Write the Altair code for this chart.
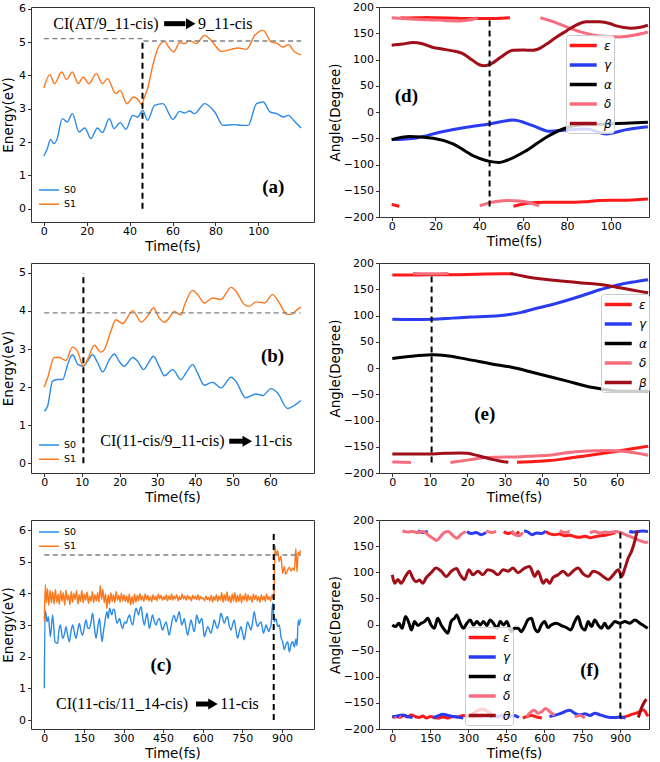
import altair as alt
import pandas as pd

FONT = "DejaVu Sans"
SERIF = "Liberation Serif"
BLUE = "#2b8be6"
ORANGE = "#fb781e"
C_EPS = "#ff1a1a"
C_GAM = "#2b3cf0"
C_ALP = "#000000"
C_DEL = "#f66e7e"
C_BET = "#a00f19"

# ---------------- panel (a) ----------------
A_S0 = [(0, 1.58), (1.6, 1.80), (3.1, 2.08), (4.7, 1.95), (6.2, 2.10), (8.6, 2.70), (10.9, 2.60),
        (13.3, 2.85), (16.4, 2.30), (19.1, 2.42), (21.9, 2.10), (25.0, 2.42), (27.3, 2.28),
        (30.5, 2.70), (32.8, 2.40), (35.6, 2.58), (38.3, 2.38), (41.4, 2.80), (43.8, 2.75),
        (46.1, 2.95), (48.4, 2.65), (51.6, 3.10), (55.5, 3.15), (60.2, 2.68), (63.3, 2.92),
        (65.6, 2.87), (68.0, 2.93), (70.3, 2.85), (75.0, 3.15), (79.7, 2.90), (83.6, 2.50),
        (89.0, 2.52), (92.2, 2.50), (95.3, 2.50), (99.2, 3.15), (102.3, 3.20), (105.5, 2.90),
        (108.6, 2.85), (111.7, 2.75), (114.0, 2.80), (117.2, 2.60), (120.0, 2.42)]
A_S1 = [(0, 3.62), (2.8, 4.02), (5.0, 3.75), (8.3, 4.10), (10.6, 3.88), (13.3, 4.10), (16.0, 3.75),
        (18.4, 3.95), (21.0, 3.75), (24.5, 4.05), (27.3, 3.75), (29.7, 3.90), (33.6, 3.45),
        (35.6, 3.55), (38.7, 3.15), (41.9, 3.35), (44.2, 3.25), (45.6, 3.12), (46.9, 3.35),
        (48.4, 3.60), (50.8, 4.30), (53.1, 4.80), (56.2, 5.02), (58.6, 4.82), (60.6, 4.70),
        (63.3, 4.98), (65.6, 4.95), (68.0, 5.05), (71.0, 4.95), (75.0, 5.20), (78.0, 5.05),
        (82.8, 4.72), (87.5, 4.78), (90.6, 4.82), (94.5, 4.78), (98.4, 5.20), (102.3, 5.35),
        (106.0, 5.00), (109.0, 4.95), (111.5, 4.85), (114.0, 4.92), (117.0, 4.70), (120.0, 4.62)]
A_HREF = [(0, 5.10), (46, 5.10), (46, 5.03), (120, 5.03)]
A_CI = (46, 0, 5.06)

# ---------------- panel (b) ----------------
B_S0 = [(0, 1.37), (0.9, 1.50), (2.2, 2.15), (3.5, 2.20), (4.9, 2.20), (6.2, 2.59), (7.5, 2.85),
        (9.0, 2.59), (10.4, 2.55), (11.5, 2.68), (12.8, 2.85), (14.2, 2.64), (15.5, 2.40),
        (17.3, 2.72), (18.6, 2.87), (19.9, 2.68), (21.2, 2.55), (23.5, 2.78), (24.8, 2.68),
        (26.4, 2.46), (27.4, 2.59), (29.0, 2.81), (30.5, 2.55), (31.9, 2.30), (34.1, 2.46),
        (36.3, 2.20), (37.6, 2.37), (39.4, 2.59), (40.7, 2.37), (42.5, 2.05), (44.7, 2.13),
        (46.9, 1.98), (49.6, 2.26), (50.9, 2.15), (53.5, 1.72), (56.2, 1.82), (58.0, 1.78),
        (60.2, 1.96), (61.9, 1.85), (64.6, 1.44), (66.4, 1.52), (68.1, 1.65)]
B_S1 = [(0, 2.00), (0.9, 2.24), (2.65, 2.78), (4.0, 2.78), (5.75, 2.70), (7.5, 3.05), (8.85, 2.94),
        (10.4, 2.55), (11.7, 2.77), (13.3, 3.10), (15.0, 2.92), (15.9, 2.98), (17.7, 3.47),
        (19.0, 3.77), (20.8, 3.67), (23.5, 4.01), (25.7, 3.71), (27.4, 3.86), (29.0, 4.08),
        (30.5, 3.82), (31.9, 3.70), (33.2, 3.82), (34.5, 3.99), (36.3, 3.90), (37.3, 4.17),
        (39.4, 4.54), (40.7, 4.43), (42.5, 4.21), (44.7, 4.34), (46.9, 4.30), (49.6, 4.62),
        (50.9, 4.52), (53.1, 4.17), (54.4, 4.12), (56.2, 4.24), (58.4, 4.21), (60.6, 4.43),
        (62.4, 4.21), (64.4, 3.91), (65.5, 3.91), (66.8, 4.01), (68.1, 4.10)]
B_HREF = [(0, 3.95), (68, 3.95)]
B_CI = (10.4, 0, 5.0)

# ---------------- panel (c) ----------------
C_S0 = [(0, 1.0), (3, 3.45), (6.4, 3.37), (10, 3.1), (15.3, 3.26), (23, 2.63), (31.7, 3.32),
        (40.5, 2.47), (50.6, 2.42), (55, 2.8), (60.8, 3.0), (69.6, 2.58), (76, 2.7), (82.3, 2.95),
        (88, 2.7), (94.9, 2.47), (101, 2.8), (107.5, 3.0), (114, 2.75), (120, 2.58), (127, 2.85),
        (133, 3.05), (139, 2.8), (145, 2.68), (152, 2.95), (158, 3.16), (165, 2.9), (171, 2.89),
        (177, 3.1), (183, 3.37), (190, 2.9), (196, 2.58), (203, 2.95), (209, 3.21), (214, 2.8),
        (219, 2.47), (224, 2.8), (228, 3.0), (237, 3.42), (242, 3.2), (247, 3.53), (256, 3.32),
        (261, 3.5), (266, 3.47), (271, 3.2), (276, 3.05), (285, 3.21), (291, 3.0), (297, 2.89),
        (304, 3.1), (310, 3.05), (316, 3.2), (323, 3.32), (329, 3.1), (335, 3.0), (341, 3.3),
        (348, 3.53), (357, 3.32), (362, 3.5), (367, 3.58), (373, 3.2), (379, 3.0), (384, 3.2),
        (389, 3.37), (394, 3.1), (398, 2.89), (404, 3.1), (410, 3.32), (417, 3.1), (423, 3.0),
        (430, 3.15), (436, 3.21), (442, 3.0), (448, 2.84), (455, 3.0), (461, 3.1), (467, 2.9),
        (473, 2.68), (480, 2.95), (486, 3.21), (492, 3.3), (499, 3.1), (505, 3.25), (511, 3.42),
        (516, 3.2), (521, 3.0), (526, 3.1), (530, 3.21), (537, 2.9), (543, 2.68), (550, 2.95),
        (556, 3.16), (562, 2.95), (568, 2.79), (573, 3.05), (577, 3.32), (582, 3.2), (587, 3.05),
        (592, 3.15), (597, 3.21), (602, 2.9), (606, 2.63), (613, 2.8), (619, 2.95), (625, 2.85),
        (631, 2.74), (638, 2.95), (644, 3.16), (650, 3.0), (656, 2.89), (663, 3.1), (669, 3.37),
        (676, 3.2), (682, 3.05), (688, 3.2), (694, 3.26), (700, 3.0), (707, 2.84), (713, 3.0),
        (719, 3.16), (726, 2.85), (732, 2.58), (739, 2.8), (745, 2.95), (751, 2.75), (757, 2.53),
        (764, 2.85), (770, 3.1), (777, 2.95), (783, 2.84), (789, 3.1), (795, 3.42), (801, 3.15),
        (808, 2.95), (815, 3.05), (821, 3.1), (826, 2.9), (830, 2.74), (835, 2.85), (840, 3.0),
        (845, 2.9), (850, 2.79), (855, 2.9), (859, 3.0), (865, 3.7), (871, 3.1), (878, 3.2),
        (884, 2.95), (890, 3.0), (897, 2.6), (903, 2.47), (909, 2.22), (916, 2.4), (922, 2.47),
        (928, 2.15), (935, 2.4), (941, 2.47), (947, 2.3), (953, 2.55), (957, 2.35), (962, 3.15),
        (966, 3.0), (970, 3.2)]
C_S1 = [(0, 3.10), (4, 4.28), (8, 3.70), (12, 4.15), (17, 3.62), (22, 4.10), (27, 3.70), (32, 4.05),
        (37, 3.66), (42, 4.12), (47, 3.72), (52, 3.98), (57, 3.65), (62, 4.08), (67, 3.75), (72, 4.02),
        (77, 3.62), (82, 4.10), (87, 3.78), (92, 3.95), (97, 3.64), (102, 4.06), (107, 3.72), (112, 4.00),
        (117, 3.80), (122, 4.08), (127, 3.66), (132, 3.96), (137, 3.74), (142, 4.10), (147, 3.70),
        (152, 3.98), (157, 3.78), (162, 4.04), (167, 3.68), (172, 3.92), (177, 3.74), (182, 4.06),
        (187, 3.70), (192, 3.96), (197, 3.76), (202, 4.02), (207, 3.72), (212, 4.25), (217, 3.80),
        (222, 4.12), (227, 3.70), (232, 3.98), (237, 3.52), (242, 3.95), (247, 3.66), (252, 4.02),
        (257, 3.74), (262, 3.96), (267, 3.70), (272, 4.06), (277, 3.78), (282, 3.94), (287, 3.72),
        (292, 4.00), (297, 3.76), (302, 3.96), (307, 3.74), (312, 3.92), (317, 3.70), (322, 3.98),
        (327, 3.64), (332, 3.90), (337, 3.66), (342, 3.98), (347, 3.72), (352, 3.94), (357, 3.76),
        (362, 4.00), (367, 3.78), (372, 3.92), (377, 3.74), (382, 3.98), (387, 3.80), (392, 3.94),
        (397, 3.76), (402, 3.90), (407, 3.74), (412, 3.96), (417, 3.80), (422, 3.92), (427, 3.76),
        (432, 3.98), (437, 3.82), (442, 3.94), (447, 3.78), (452, 3.90), (457, 3.80), (462, 3.96),
        (467, 3.76), (472, 3.92), (477, 3.80), (482, 3.98), (487, 3.78), (492, 3.92), (497, 3.82),
        (502, 3.96), (507, 3.76), (512, 3.90), (517, 3.80), (522, 3.98), (527, 3.82), (532, 3.92),
        (537, 3.78), (542, 3.94), (547, 3.82), (552, 3.90), (557, 3.76), (562, 3.94), (567, 3.82),
        (572, 3.92), (577, 3.80), (582, 3.96), (587, 3.78), (592, 3.90), (597, 3.82), (602, 3.86),
        (607, 3.76), (612, 3.92), (617, 3.80), (622, 3.88), (627, 3.76), (632, 3.94), (637, 3.72),
        (642, 3.90), (647, 3.78), (652, 3.96), (657, 3.74), (662, 3.92), (667, 3.78), (672, 4.02),
        (677, 3.72), (682, 3.96), (687, 3.76), (692, 4.04), (697, 3.74), (702, 3.92), (707, 3.70),
        (712, 3.98), (717, 3.76), (722, 4.02), (727, 3.72), (732, 3.94), (737, 3.74), (742, 3.98),
        (747, 3.70), (752, 3.92), (757, 3.78), (762, 4.00), (767, 3.74), (772, 3.96), (777, 3.78),
        (782, 3.90), (787, 3.72), (792, 3.98), (797, 3.80), (802, 3.94), (807, 3.76), (812, 3.90),
        (817, 3.72), (822, 3.96), (827, 3.78), (832, 3.92), (837, 3.74), (842, 3.98), (847, 3.80),
        (852, 3.90), (857, 3.76), (862, 3.94), (866, 3.84), (870, 3.88), (874, 5.50), (878, 5.22),
        (884, 5.35), (890, 5.00), (896, 5.17), (903, 4.63), (909, 4.84), (915, 4.60), (922, 4.74),
        (928, 4.82), (935, 4.70), (941, 4.80), (947, 4.72), (953, 5.42), (957, 4.68), (962, 5.30),
        (966, 5.22), (970, 5.36)]
C_HREF = [(0, 5.21), (972, 5.21)]
C_CI = (869, 0, 6.0)

# ---------------- panel (d) ----------------
D_EPS = [(0, -176), (2, -178), (3.5, -179.6), (4, 179.5), (8, 179), (12, 179.5), (16, 180), (20, 179.5),
         (25, 179), (30, 178.5), (35, 178), (40, 178), (45, 178), (50, 178.5), (54, 179.5), (55.6, -179.5),
         (58, -177), (62, -174), (66, -172.5), (70, -172), (80, -172), (88, -171), (95, -168.5),
         (105, -168), (117, -165.5)]
D_GAM = [(0, -52.6), (11.3, -49.4), (21.9, -38.6), (34.1, -29), (44.7, -22.8), (55.4, -15.2),
         (64.5, -26), (72.1, -36.7), (79.8, -34.2), (88.9, -32.3), (98, -41.8), (107.2, -33.6),
         (117, -27.9)]
D_ALP = [(0, -52.6), (8.2, -46.9), (18.9, -50), (28, -60.8), (37.1, -83), (44.7, -94), (49, -96),
         (52.4, -92.4), (61.5, -73.5), (70.6, -48), (79.8, -30), (88.9, -24), (99.5, -22.8),
         (117, -19.7)]
D_DEL = [(0, 179.5), (5, 178), (11.3, 176.6), (16, 175.5), (21.9, 175), (26, 174), (31, 173.4),
         (35, 175), (37.1, 176.6), (39.2, 179.5), (40.2, -178.5), (43, -175), (46.3, -171.6),
         (52.4, -168.4), (58.4, -169.7), (64.5, -174.7), (67.3, -179), (67.9, 179.5), (70, 177),
         (73.7, 172), (79.8, 162), (85.8, 153), (91.9, 146.8), (98, 143.7), (104.1, 143),
         (110.2, 146), (117, 152.5)]
D_BET = [(0, 127.2), (5, 129.5), (9.7, 132.3), (14, 130), (18.9, 123), (23, 120), (28, 116.4),
         (32, 112), (37.1, 98), (40, 90), (42.5, 88), (45.5, 92), (50, 105), (55.4, 117.7), (60, 118),
         (64.5, 117.7), (67, 120), (70.6, 129), (75, 142), (79.8, 154.4), (84, 165), (88.9, 172),
         (95, 172), (100, 168), (102.6, 164), (106, 161), (109.4, 159.5), (113, 161), (117, 165.2)]
D_CI = (44.7, -180, 178)

# ---------------- panel (e) ----------------
E_EPS = [(0, 177), (5, 177), (10, 177.5), (15, 177.5), (20, 178), (25, 179), (30, 179.5), (32.3, 179.8),
         (33.3, -179.6), (37, -178.5), (42, -176.4), (46, -173), (51, -168), (55, -164), (60, -158.5),
         (64, -154), (68.3, -149)]
E_GAM = [(0, 93), (5, 92.5), (10.9, 93), (16, 95), (21, 97), (26, 98.5), (31.3, 102), (34.5, 106),
         (37.6, 112), (42, 119.5), (46.5, 128.5), (51, 138.5), (55.4, 149), (58.5, 155), (61.6, 160.4),
         (65, 164.5), (68.3, 168)]
E_ALP = [(0, 18.2), (6.4, 23.3), (10.9, 25.2), (14.5, 23.3), (19.8, 16.9), (26.9, 7.3), (31.3, 2.2),
         (37.6, -8.6), (46.5, -24.6), (53.6, -37.3), (59.8, -43.7), (64, -44.5), (68.3, -43.7)]
E_DEL = [(0, -179), (2.5, -179.3), (5, -179.8), (5.5, 179.8), (8, 179.5), (12, 179.5), (15, 179.8),
         (15.5, -179.8), (20, -175.5), (24.2, -171), (28, -170), (33, -169.4), (38, -167.5), (42, -166),
         (47, -161), (51, -158.5), (54, -157.5), (57, -157), (61.6, -158.5), (65, -162), (68.3, -166)]
E_BET = [(0, -163.6), (5, -163.6), (10.9, -163.6), (14, -162.5), (18, -161.7), (20, -162.5),
         (22.4, -166), (24.5, -170), (26.9, -174.5), (29, -177.5), (31, -179.6), (31.5, 179.8),
         (34, 176.4), (36.5, 173), (39.4, 170), (43, 167), (46.5, 164.9), (50, 162.5), (53.6, 160.4),
         (57, 157.5), (59.8, 154), (63, 150), (66, 146), (68.3, 143.2)]
E_CI = (10.5, -180, 178)

# ---------------- panel (f) ----------------
F_EPS = [(0, -177), (15, -176), (30, -178), (45, -174), (60, -177), (75, -173), (90, -176), (105, -178),
         (120, -175), (135, -179), (150, -176), (165, -178), (180, -179), (200, -177), (220, -179),
         (240, -176), (260, -177), (280, -174), (300, -176), (320, -170), (340, -164), (360, -162),
         (380, -168), (400, -174), (420, -178), (440, 178), (455, 174), (470, 176), (485, 172),
         (500, 178), (515, -179), (530, -176), (550, -174), (570, -177), (590, -179), (605, 178),
         (620, 174), (640, 172), (660, 173), (680, 170), (700, 171), (720, 168), (740, 167), (760, 169),
         (780, 166), (800, 168), (820, 170), (840, 171), (860, 173), (880, 176), (900, -179),
         (915, -177), (930, -175), (945, -172), (960, -170), (975, -167), (990, -163), (1000, -168),
         (1009, -176)]
F_GAM = [(0, -177), (20, -175), (40, -173), (60, -176), (80, -178), (100, 179), (120, 176), (140, 178),
         (160, -179), (180, -175), (200, -172), (220, -174), (240, -176), (260, -177), (280, -179),
         (295, 178), (310, 174), (330, 176), (350, 172), (370, 176), (385, -179), (400, -174),
         (420, -176), (440, -173), (460, -177), (480, -174), (500, -178), (520, 179.5), (535, 177),
         (550, 172), (570, 175), (590, 174), (605, 179), (620, -176), (640, -174), (660, -171),
         (680, -167), (700, -164), (720, -170), (740, -173), (760, -171), (780, -174), (800, -170),
         (820, -173), (840, -176), (860, -178), (880, -178), (900, -177), (920, -179), (935, 178),
         (950, 177), (970, 178), (990, 179), (1009, 178)]
F_ALP = [(0, -1), (13, -4), (26, 2.4), (39, -7.3), (52, 15.3), (66, 2.4), (75, -10.4), (88, 5.6),
         (101, -2.1), (114, 2.4), (127, 5.6), (140, 12), (153, -1), (166, -7.3), (179, 12), (193, -1),
         (206, -10.4), (219, -16.8), (232, 5.6), (245, 12), (254, 18), (268, 2.4), (281, -7.3),
         (294, 2.4), (307, 8.8), (320, -1), (334, 5.6), (347, -1), (360, 5.6), (373, -2), (386, 8.8),
         (399, 2.4), (413, -7.3), (426, 5.6), (439, -1), (452, 5.6), (469, -13.6), (482, -7.3),
         (496, -7.3), (509, -13.7), (522, -4), (535, 8.8), (549, 12), (562, -7.3), (575, -13.7),
         (588, -1), (601, 5.6), (614, -5.9), (627, -1), (647, 2.4), (667, -2.1), (687, -5.9),
         (704, -10.4), (720, 5.6), (733, 15.3), (746, -4), (760, -10.4), (773, 5.6), (786, -4),
         (799, 8.8), (812, -1), (825, -7.3), (838, 2.4), (851, -7.3), (865, -1), (878, 5.6), (898, 2.4),
         (918, 5.6), (937, 2.4), (957, 8.8), (977, 2.4), (997, -4), (1008, -7.3)]
F_DEL = [(0, 179), (8, -178), (14, -179), (20, 178), (28, -177), (33, -178), (40, 179), (60, 177),
         (80, 178), (100, 176), (120, 178), (140, 172), (160, 165), (175, 161), (190, 168), (205, 176),
         (220, 178), (240, 170), (255, 165), (270, 172), (290, 178), (310, -179), (330, -176),
         (350, -178), (370, 179), (390, 176), (410, 178), (430, -179), (450, -176), (470, 179.5),
         (485, 172), (500, 170), (515, 176), (530, -177), (545, -168), (560, -164), (575, -170),
         (590, -167), (605, -161), (620, -166), (640, -174), (660, 179), (680, 176), (700, 178),
         (720, -177), (740, -174), (760, -179), (780, 176), (800, 178), (820, 175), (840, 177),
         (860, 176), (880, 178), (900, 176), (920, 172), (940, 168), (960, 164), (980, 160),
         (1000, 157), (1009, 158)]
F_THE = [(0, 95), (9, 79), (22, 86), (35, 79), (52, 92), (68, 102), (81, 89), (94, 82), (107, 85),
         (120, 79), (133, 89), (153, 99), (173, 108), (193, 102), (213, 92), (233, 102), (253, 107),
         (268, 95), (285, 86), (302, 105), (318, 95), (338, 102), (357, 95), (377, 105), (397, 102),
         (417, 95), (437, 105), (457, 102), (476, 108), (496, 99), (522, 108), (542, 111), (562, 92),
         (575, 102), (595, 79), (608, 86), (621, 79), (634, 90), (654, 95), (674, 102), (694, 94),
         (713, 102), (733, 108), (753, 97), (773, 92), (793, 102), (812, 99), (832, 92), (852, 86),
         (872, 95), (892, 105), (905, 92), (918, 108), (931, 127), (944, 140), (957, 160), (963, 172),
         (967, 179), (971, -178), (983, -160), (995, -148), (1003, -143)]
F_CI = (900, -180, 178)

# ---------------- helpers ----------------
XAX = dict(tickSize=3.5, labelPadding=0, titlePadding=3, labelFlush=False, grid=False, domain=False)
YAX = dict(tickSize=3.5, labelPadding=2, grid=False, domain=False)
LINE_SYMBOL = "M-1,0L3,0"


def encs(xdom, ydom, xticks, yticks, ytitle, ytp):
    x = alt.X("t:Q", scale=alt.Scale(domain=xdom, nice=False, zero=False),
              axis=alt.Axis(values=xticks, title="Time(fs)", **XAX))
    y = alt.Y("v:Q", scale=alt.Scale(domain=ydom, nice=False, zero=False),
              axis=alt.Axis(values=yticks, title=ytitle, titlePadding=ytp, **YAX))
    return x, y


def extras(x, y, href, ci, texts, arrow, plabel, fs=16):
    layers = []
    if href is not None:
        hdf = pd.DataFrame({"t": [p[0] for p in href], "v": [p[1] for p in href],
                            "i": list(range(len(href)))})
        layers.append(alt.Chart(hdf).mark_line(color="#808080", strokeWidth=1.3, strokeDash=[5, 3.5])
                      .encode(x=x, y=y, order="i:Q"))
    cdf = pd.DataFrame({"t": [ci[0]], "v": [ci[1]], "v2": [ci[2]]})
    layers.append(alt.Chart(cdf).mark_rule(color="black", strokeWidth=2, strokeDash=[6, 4])
                  .encode(x=x, y=y, y2=alt.Y2("v2")))
    if texts:
        tdf = pd.DataFrame({"t": [p[0] for p in texts], "v": [p[1] for p in texts],
                            "label": [p[2] for p in texts]})
        layers.append(alt.Chart(tdf).mark_text(align="left", baseline="middle", font=SERIF,
                                               fontSize=fs, color="black")
                      .encode(x=x, y=y, text="label:N"))
    if arrow:
        t1, t2, th, yv = arrow
        adf = pd.DataFrame({"t": [t1], "t2": [t2], "v": [yv]})
        layers.append(alt.Chart(adf).mark_rule(color="black", strokeWidth=5)
                      .encode(x=x, x2=alt.X2("t2"), y=y))
        hdf2 = pd.DataFrame({"t": [th], "v": [yv]})
        layers.append(alt.Chart(hdf2).mark_point(shape="triangle-right", filled=True, size=120,
                                                 color="black", opacity=1)
                      .encode(x=x, y=y))
    pdf = pd.DataFrame({"t": [plabel[0]], "v": [plabel[1]], "label": [plabel[2]]})
    layers.append(alt.Chart(pdf).mark_text(align="center", baseline="middle", font=SERIF,
                                           fontSize=19, fontWeight="bold", color="black")
                  .encode(x=x, y=y, text="label:N"))
    return layers


def energy_panel(s0, s1, href, ci, xdom, ydom, xticks, yticks, w, h, leg_y, texts, arrow, plabel):
    x, y = encs(xdom, ydom, xticks, yticks, "Energy(eV)", 3)
    rows = [dict(t=t, v=v, s="S0") for t, v in s0] + [dict(t=t, v=v, s="S1") for t, v in s1]
    df = pd.DataFrame(rows)
    lines = alt.Chart(df).mark_line(strokeWidth=1.4, interpolate="monotone", clip=True).encode(
        x=x, y=y,
        color=alt.Color("s:N", scale=alt.Scale(domain=["S0", "S1"], range=[BLUE, ORANGE]),
                        legend=alt.Legend(title=None, orient="none", legendX=7, legendY=leg_y,
                                          direction="vertical", symbolType=LINE_SYMBOL, symbolSize=100,
                                          symbolStrokeWidth=1.5, labelFont=FONT, labelFontSize=9.5,
                                          labelOffset=14, rowPadding=3.25, padding=0)))
    return alt.layer(lines, *extras(x, y, href, ci, texts, arrow, plabel)).properties(width=w, height=h)


def angle_panel(series, names, colors, ci, xdom, xticks, w, h, leg_xy, plabel, interp):
    x, y = encs(xdom, [-200, 200], xticks, [-200, -150, -100, -50, 0, 50, 100, 150, 200],
                "Angle(Degree)", 1)
    rows = []
    for name, pts in zip(names, series):
        seg, prev = 0, None
        for t, v in pts:
            if prev is not None and abs(v - prev) > 180:
                seg += 1
            rows.append(dict(t=t, v=v, s=name, g=f"{name}_{seg}"))
            prev = v
    df = pd.DataFrame(rows)
    lines = alt.Chart(df).mark_line(strokeWidth=3, interpolate=interp, clip=True).encode(
        x=x, y=y, detail="g:N",
        color=alt.Color("s:N", scale=alt.Scale(domain=names, range=colors),
                        legend=alt.Legend(title=None, orient="none", legendX=leg_xy[0], legendY=leg_xy[1],
                                          direction="vertical", symbolType=LINE_SYMBOL, symbolSize=182,
                                          symbolStrokeWidth=3.5, labelFont=FONT, labelFontSize=12,
                                          labelFontStyle="italic", labelOffset=19, rowPadding=3.5,
                                          padding=2, fillColor="rgba(255,255,255,0.8)",
                                          strokeColor="#cccccc", cornerRadius=3)))
    return alt.layer(lines, *extras(x, y, None, ci, None, None, plabel)).properties(width=w, height=h)


GREEK5 = ["ε", "γ", "α", "δ", "β"]
GREEKF = ["ε", "γ", "α", "δ", "θ"]
COLS = [C_EPS, C_GAM, C_ALP, C_DEL, C_BET]

pa = energy_panel(A_S0, A_S1, A_HREF, A_CI, [-6, 126], [-0.4, 6.05], [0, 20, 40, 60, 80, 100],
                  [0, 1, 2, 3, 4, 5, 6], 283, 215, 177,
                  [(4.4, 5.55, "CI(AT/9_11-cis)"), (71.9, 5.55, "9_11-cis")],
                  (56.1, 66.0, 68.5, 5.55), (107, 0.65, "(a)"))
pb = energy_panel(B_S0, B_S1, B_HREF, B_CI, [-3.5, 71.6], [-0.255, 5.26], [0, 10, 20, 30, 40, 50, 60],
                  [0, 1, 2, 3, 4, 5], 283, 210, 176,
                  [(14.9, 0.58, "CI(11-cis/9_11-cis)"), (55.6, 0.58, "11-cis")],
                  (49.1, 52.8, 53.9, 0.58), (60.6, 2.81, "(b)"))
pc = energy_panel(C_S0, C_S1, C_HREF, C_CI, [-50.4, 1021.6], [-0.284, 6.316],
                  [0, 150, 300, 450, 600, 750, 900], [0, 1, 2, 3, 4, 5, 6], 283, 209, 6,
                  [(44.3, 0.505, "CI(11-cis/11_14-cis)"), (666.7, 0.505, "11-cis")],
                  (574.6, 630, 639, 0.505), (442, 1.74, "(c)"))
pd_ = angle_panel([D_EPS, D_GAM, D_ALP, D_DEL, D_BET], GREEK5, COLS, D_CI, [-5.8, 117.5],
                  [0, 20, 40, 60, 80, 100], 270, 210, (187, 28), (6.7, 31, "(d)"), "monotone")
pe = angle_panel([E_EPS, E_GAM, E_ALP, E_DEL, E_BET], GREEK5, COLS, E_CI, [-3.55, 68.55],
                 [0, 10, 20, 30, 40, 50, 60], 270, 210, (222, 31), (24.7, -87.6, "(e)"), "monotone")
pf = angle_panel([F_EPS, F_GAM, F_ALP, F_DEL, F_THE], GREEKF, COLS, F_CI, [-52.5, 1013],
                 [0, 150, 300, 450, 600, 750, 900], 270, 209, (86, 107), (779, -87, "(f)"), "monotone")

SH = 12


def row(l, r):
    return alt.hconcat(l, r, spacing=SH).resolve_scale(color="independent", x="independent",
                                                       y="independent")


top = alt.vconcat(row(pa, pd_), row(pb, pe), spacing=2).resolve_scale(
    color="independent", x="independent", y="independent")
chart = alt.vconcat(top, row(pc, pf), spacing=8).resolve_scale(
    color="independent", x="independent", y="independent")

chart = chart.properties(padding={"left": 1, "top": 0, "right": 0, "bottom": 0}, background="white")
chart = chart.configure_axis(labelFont=FONT, labelFontSize=11, labelColor="#000", titleFont=FONT,
                             titleFontSize=13.5, titleFontWeight="normal", titleColor="#000",
                             tickColor="#333", tickWidth=1)
chart = chart.configure_view(stroke="#333", strokeWidth=1)

chart.save("out.html", embed_options={"renderer": "svg", "actions": False})
